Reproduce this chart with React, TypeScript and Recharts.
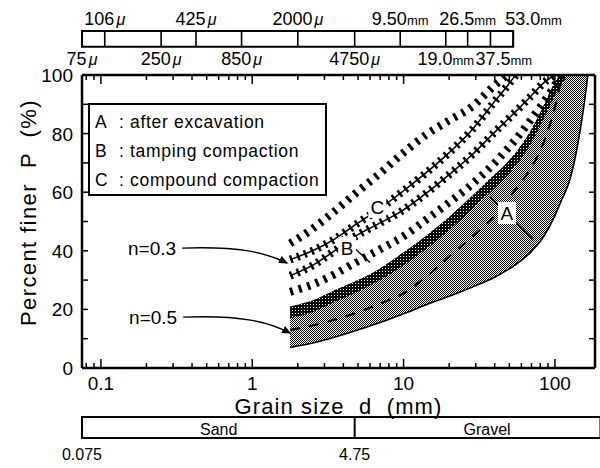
import React from "react"
import {
  ComposedChart,
  Area,
  Line,
  XAxis,
  YAxis,
  ReferenceArea,
  ReferenceLine,
  ReferenceDot,
  Legend,
} from "recharts"

const FONT = "'Liberation Sans', Arial, Helvetica, sans-serif"

const grainSize = [1.78, 2.5, 3.5, 5, 7, 10, 14, 20, 28, 40, 48, 55, 70, 85, 100, 110, 125, 140, 155, 165]

// C : compound compaction (upper / lower limit)
const compoundUpper = [42.5, 47.5, 53.5, 60.3, 66.5, 73.5, 79.5, 84.5, 89, 96.5, 100, null, null, null, null, null, null, null, null, null]
const compoundLower = [37, 40, 44, 49.5, 54.5, 60.5, 66.5, 73.5, 81, 91, 96, 100, null, null, null, null, null, null, null, null]
// B : tamping compaction (upper / lower limit)
const tampingUpper = [31.5, 35, 40, 45.5, 49.5, 54, 59.5, 66, 72.5, 80.5, 84.5, 87.5, 93, 97.5, 100, null, null, null, null, null]
const tampingLower = [26, 28.5, 32, 36.5, 40.5, 45, 50.5, 56.5, 62.5, 70, 74.5, 78, 85, 91, 96.5, 100, null, null, null, null]
// A : after excavation (upper limit, dark rim, lower limit)
const excavationUpper = [21, 23, 26.5, 30, 34, 39.5, 45, 51.5, 58.5, 66, 70, 73.5, 81.5, 90, 97.5, 100, 100, 100, 100, 100]
const excavationRim = [17, 19, 22.5, 26, 30, 35, 40.5, 47, 54, 61.5, 65.5, 69, 77, 85.5, 93, 96.5, 100, 100, 100, 100]
const excavationLower = [7, 8.5, 10.5, 13, 15.5, 18.5, 21.5, 24.5, 27.5, 31, 33.3, 35.3, 39.8, 45.2, 52, 57, 64, 75, 89, 100]
// n = 0.5 curve (dashed)
const halfPower = [13, 14.5, 16.5, 19, 22, 25.5, 31, 38, 44.5, 52, 57, 61, 68.5, 77.5, 89, 98.5, null, null, null, null]

// sieve scale above the plot
const sieveOpenings = [0.075, 0.106, 0.25, 0.425, 0.85, 2.0, 4.75, 9.5, 19.0, 26.5, 37.5, 53.0]
const sieveLabels = ["75", "106", "250", "425", "850", "2000", "4750", "9.50", "19.0", "26.5", "37.5", "53.0"]
const sieveUnits = ["μ", "μ", "μ", "μ", "μ", "μ", "μ", "mm", "mm", "mm", "mm", "mm"]

// soil classes below the plot
const soilBounds = [0.075, 4.75]
const soilNames = ["Sand", "Gravel"]
const soilNameAt = [0.6, 35.6]

const xTicks = [0.08, 0.09, 0.1, 0.2, 0.3, 0.4, 0.5, 0.6, 0.7, 0.8, 0.9, 1, 2, 3, 4, 5, 6, 7, 8, 9, 10, 20, 30, 40, 50, 60, 70, 80, 90, 100]
const xTickLabels: Record<string, string> = { "0.1": "0.1", "1": "1", "10": "10", "100": "100" }
const yTicks = [0, 10, 20, 30, 40, 50, 60, 70, 80, 90, 100]

const legendRows = [
  ["A", "after excavation"],
  ["B", "tamping compaction"],
  ["C", "compound compaction"],
]

// bands outside the plot, in P units of the y scale
const SIEVE_BAR = [109.6, 115.0]
const SOIL_BAR = [-23.9, -16.7]

const table = grainSize.map((d, i) => ({
  d,
  cUp: compoundUpper[i],
  cLo: compoundLower[i],
  bUp: tampingUpper[i],
  bLo: tampingLower[i],
  aBand: [excavationLower[i], excavationUpper[i]],
  aRim: [excavationRim[i], excavationUpper[i]],
  aLo: excavationLower[i],
  half: halfPower[i],
}))

const hatchRows = [
  { key: "cUp", solid: false, dash: "3 6" },
  { key: "cLo", solid: true, dash: "2.5 5" },
  { key: "bUp", solid: true, dash: "2.5 5" },
  { key: "bLo", solid: false, dash: "3 6" },
]

function BottomTick(props: any) {
  const { x, y, payload } = props
  const label = xTickLabels[String(payload.value)]
  return (
    <g>
      <line x1={x} x2={x} y1={y} y2={y - (label ? 9 : 5)} stroke="#000" strokeWidth={1.5} />
      {label && (
        <text x={x} y={y + 22} textAnchor="middle" fontFamily={FONT} fontSize={19}>
          {label}
        </text>
      )}
    </g>
  )
}

function TopTick(props: any) {
  const { x, y, payload } = props
  const major = xTickLabels[String(payload.value)]
  return <line x1={x} x2={x} y1={y} y2={y + (major ? 9 : 5)} stroke="#000" strokeWidth={1.5} />
}

function LeftTick(props: any) {
  const { x, y, payload } = props
  const labelled = payload.value % 20 === 0
  return (
    <g>
      <line x1={x} x2={x + 6} y1={y} y2={y} stroke="#000" strokeWidth={1.5} />
      {labelled && (
        <text x={x - 9} y={y + 7} textAnchor="end" fontFamily={FONT} fontSize={19}>
          {payload.value}
        </text>
      )}
    </g>
  )
}

function RightTick(props: any) {
  const { x, y } = props
  return <line x1={x} x2={x - 6} y1={y} y2={y} stroke="#000" strokeWidth={1.5} />
}

function YTitle(props: any) {
  const vb = props.viewBox
  const cx = vb.x + vb.width - 54
  const cy = vb.y + vb.height / 2 - 9
  return (
    <text
      transform={`translate(${cx},${cy}) rotate(-90)`}
      textAnchor="middle"
      dominantBaseline="central"
      fontFamily={FONT}
      fontSize={22}
      letterSpacing={1.4}
      style={{ whiteSpace: "pre" }}
    >
      Percent finer  P  (%)
    </text>
  )
}

function XTitle(props: any) {
  const vb = props.viewBox
  return (
    <text
      x={vb.x + vb.width / 2}
      y={vb.y + 46}
      textAnchor="middle"
      fontFamily={FONT}
      fontSize={22}
      letterSpacing={1.1}
      style={{ whiteSpace: "pre" }}
    >
      Grain size  d  (mm)
    </text>
  )
}

function SieveLabel(props: any) {
  const { cx, cy, text, unit, above, shift } = props
  return (
    <text
      x={cx + (shift || 0)}
      y={above ? cy - 6 : cy + 18}
      textAnchor={shift ? "start" : "middle"}
      fontFamily={FONT}
      fontSize={18}
    >
      {text}
      <tspan fontSize={unit === "mm" ? 13 : 16} fontStyle={unit === "μ" ? "italic" : "normal"} dx={unit === "μ" ? 2 : 0}>
        {unit}
      </tspan>
    </text>
  )
}

function CurveNote(props: any) {
  const { cx, cy, text, run, rise } = props
  const sx = cx - run
  const sy = cy - rise
  return (
    <g>
      <text x={sx - 6} y={sy + 7} textAnchor="end" fontFamily={FONT} fontSize={19}>
        {text}
      </text>
      <path
        d={`M${sx},${sy} C${sx + run * 0.55},${sy - 2} ${cx - run * 0.2},${cy - rise * 0.7} ${cx},${cy}`}
        fill="none"
        stroke="#000"
        strokeWidth={1.4}
        markerEnd="url(#arrowHead)"
      />
    </g>
  )
}

function BandLetter(props: any) {
  const { cx, cy, text } = props
  return (
    <g>
      <rect x={cx - 9} y={cy - 11} width={18} height={22} fill="#fff" />
      <text x={cx} y={cy + 7} textAnchor="middle" fontFamily={FONT} fontSize={19}>
        {text}
      </text>
    </g>
  )
}

function LegendBox() {
  return (
    <div
      style={{
        width: 239,
        height: 93,
        border: "2px solid #000",
        boxSizing: "border-box",
        background: "#fff",
        position: "relative",
        fontFamily: FONT,
        fontSize: 17.5,
        color: "#000",
      }}
    >
      {legendRows.map(([k, t], i) => (
        <div
          key={k}
          style={{ position: "absolute", left: 5, top: 7 + i * 29, whiteSpace: "pre", lineHeight: "20px", letterSpacing: 0.7 }}
        >
          <span style={{ display: "inline-block", width: 24 }}>{k}</span>
          <span style={{ display: "inline-block", width: 11 }}>:</span>
          <span>{t}</span>
        </div>
      ))}
    </div>
  )
}

export default function App() {
  return (
    <div style={{ position: "absolute", left: 0, top: 0, width: 600, height: 468, overflow: "hidden", background: "#fff" }}>
      <ComposedChart width={600} height={468} data={table} margin={{ top: 74, right: 4, bottom: 99, left: 81 }}>
        <defs>
          <pattern id="stipple" width="2" height="2" patternUnits="userSpaceOnUse">
            <rect width="2" height="2" fill="#fff" />
            <rect x="0" y="0" width="1" height="1" fill="#000" />
            <rect x="1" y="1" width="1" height="1" fill="#000" />
          </pattern>
          <pattern id="rim" width="3" height="3" patternUnits="userSpaceOnUse">
            <rect width="3" height="3" fill="#000" />
            <rect x="1" y="1" width="1" height="1" fill="#fff" />
          </pattern>
          <marker id="arrowHead" markerWidth="9" markerHeight="8" refX="8" refY="4" orient="auto" markerUnits="userSpaceOnUse">
            <path d="M0,0 L9,4 L0,8 z" fill="#000" />
          </marker>
        </defs>

        <XAxis
          dataKey="d"
          type="number"
          scale="log"
          domain={[0.075, 184]}
          allowDataOverflow
          ticks={xTicks}
          interval={0}
          height={1}
          tickSize={0}
          tickMargin={0}
          tickLine={false}
          tick={(p: any) => <BottomTick {...p} />}
          axisLine={{ stroke: "#000", strokeWidth: 2.5 }}
          label={(p: any) => <XTitle {...p} />}
        />
        <XAxis
          xAxisId="top"
          dataKey="d"
          orientation="top"
          type="number"
          scale="log"
          domain={[0.075, 184]}
          allowDataOverflow
          ticks={xTicks}
          interval={0}
          height={1}
          tickSize={0}
          tickMargin={0}
          tickLine={false}
          tick={(p: any) => <TopTick {...p} />}
          axisLine={{ stroke: "#000", strokeWidth: 2.5 }}
        />
        <YAxis
          type="number"
          domain={[0, 100]}
          allowDataOverflow
          ticks={yTicks}
          interval={0}
          width={1}
          tickSize={0}
          tickMargin={0}
          tickLine={false}
          tick={(p: any) => <LeftTick {...p} />}
          axisLine={{ stroke: "#000", strokeWidth: 2.5 }}
          label={(p: any) => <YTitle {...p} />}
        />
        <YAxis
          yAxisId="right"
          orientation="right"
          type="number"
          domain={[0, 100]}
          allowDataOverflow
          ticks={yTicks}
          interval={0}
          width={1}
          tickSize={0}
          tickMargin={0}
          tickLine={false}
          tick={(p: any) => <RightTick {...p} />}
          axisLine={{ stroke: "#000", strokeWidth: 2.5 }}
        />

        <Area dataKey="aBand" type="monotone" fill="url(#stipple)" fillOpacity={1} stroke="none" isAnimationActive={false} />
        <Area dataKey="aRim" type="monotone" fill="url(#rim)" fillOpacity={1} stroke="none" isAnimationActive={false} />
        <Line dataKey="aLo" type="monotone" stroke="#000" strokeWidth={1.6} dot={false} activeDot={false} isAnimationActive={false} />
        <Line
          dataKey="half"
          type="monotone"
          stroke="#000"
          strokeWidth={2.2}
          strokeDasharray="10 9"
          dot={false}
          activeDot={false}
          isAnimationActive={false}
        />

        {hatchRows.map((r) => (
          <Line
            key={r.key + "-h"}
            dataKey={r.key}
            type="monotone"
            stroke="#000"
            strokeWidth={8}
            strokeDasharray={r.dash}
            dot={false}
            activeDot={false}
            isAnimationActive={false}
          />
        ))}
        {hatchRows
          .filter((r) => r.solid)
          .map((r) => (
            <Line
              key={r.key + "-s"}
              dataKey={r.key}
              type="monotone"
              stroke="#000"
              strokeWidth={1.5}
              dot={false}
              activeDot={false}
              isAnimationActive={false}
            />
          ))}

        {/* sieve scale */}
        <ReferenceArea
          x1={sieveOpenings[0]}
          x2={sieveOpenings[sieveOpenings.length - 1]}
          y1={SIEVE_BAR[0]}
          y2={SIEVE_BAR[1]}
          ifOverflow="visible"
          fill="none"
          fillOpacity={0}
          stroke="#000"
          strokeWidth={2}
        />
        {sieveOpenings.map((s) => (
          <ReferenceLine
            key={"sv" + s}
            segment={[
              { x: s, y: SIEVE_BAR[0] },
              { x: s, y: SIEVE_BAR[1] },
            ]}
            ifOverflow="visible"
            stroke="#000"
            strokeWidth={1.6}
          />
        ))}
        {sieveOpenings.map((s, i) => {
          const above = i % 2 === 1
          const shift = s === 53.0 ? -8 : s === 37.5 ? -15 : 0
          return (
            <ReferenceDot
              key={"sl" + s}
              x={s}
              y={above ? SIEVE_BAR[1] : SIEVE_BAR[0]}
              ifOverflow="visible"
              shape={(p: any) => (
                <SieveLabel cx={p.cx} cy={p.cy} text={sieveLabels[i]} unit={sieveUnits[i]} above={above} shift={shift} />
              )}
            />
          )
        })}

        {/* soil classes */}
        <ReferenceArea
          x1={soilBounds[0]}
          x2={200}
          y1={SOIL_BAR[0]}
          y2={SOIL_BAR[1]}
          ifOverflow="visible"
          fill="none"
          fillOpacity={0}
          stroke="#000"
          strokeWidth={2}
        />
        {soilBounds.map((s) => (
          <ReferenceLine
            key={"sb" + s}
            segment={[
              { x: s, y: SOIL_BAR[0] },
              { x: s, y: SOIL_BAR[1] },
            ]}
            ifOverflow="visible"
            stroke="#000"
            strokeWidth={2}
          />
        ))}
        {soilBounds.map((s) => (
          <ReferenceDot
            key={"sbl" + s}
            x={s}
            y={SOIL_BAR[0]}
            ifOverflow="visible"
            shape={(p: any) => (
              <text x={p.cx} y={p.cy + 22} textAnchor="middle" fontFamily={FONT} fontSize={16}>
                {String(s)}
              </text>
            )}
          />
        ))}
        {soilNames.map((n, i) => (
          <ReferenceDot
            key={"sn" + n}
            x={soilNameAt[i]}
            y={SOIL_BAR[0]}
            ifOverflow="visible"
            shape={(p: any) => (
              <text x={p.cx} y={p.cy - 3} textAnchor="middle" fontFamily={FONT} fontSize={16}>
                {n}
              </text>
            )}
          />
        ))}

        {/* curve notes */}
        <ReferenceDot x={1.7} y={35.8} ifOverflow="visible" shape={(p: any) => <CurveNote cx={p.cx} cy={p.cy} text="n=0.3" run={105} rise={15} />} />
        <ReferenceDot x={1.78} y={11.9} ifOverflow="visible" shape={(p: any) => <CurveNote cx={p.cx} cy={p.cy} text="n=0.5" run={107} rise={16} />} />

        {/* band letters */}
        <ReferenceLine
          segment={[
            { x: 37.2, y: 58.5 },
            { x: 71.6, y: 44 },
          ]}
          stroke="#000"
          strokeWidth={1.6}
        />
        <ReferenceLine
          segment={[
            { x: 3.9, y: 45 },
            { x: 6.0, y: 36 },
          ]}
          stroke="#000"
          strokeWidth={1.4}
        />
        <ReferenceDot x={48.2} y={52.9} ifOverflow="visible" shape={(p: any) => <BandLetter cx={p.cx} cy={p.cy} text="A" />} />
        <ReferenceDot x={4.24} y={41} ifOverflow="visible" shape={(p: any) => <BandLetter cx={p.cx} cy={p.cy} text="B" />} />
        <ReferenceDot x={6.7} y={55} ifOverflow="visible" shape={(p: any) => <BandLetter cx={p.cx} cy={p.cy} text="C" />} />

        <Legend
          layout="vertical"
          align="center"
          verticalAlign="middle"
          width={239}
          height={93}
          wrapperStyle={{ left: 88, top: 103, width: 239, height: 93 }}
          content={() => <LegendBox />}
        />
      </ComposedChart>
    </div>
  )
}
